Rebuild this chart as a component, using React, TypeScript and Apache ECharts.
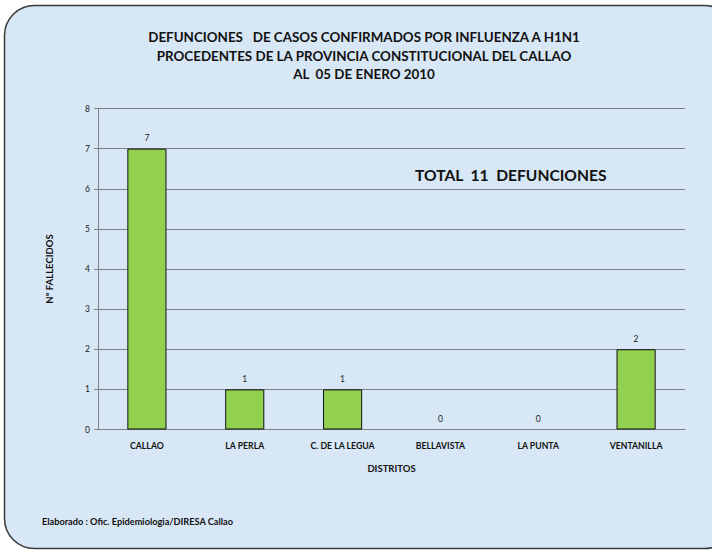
import React, { useEffect, useRef } from "react";
import * as echarts from "echarts";

const categories = ["CALLAO", "LA PERLA", "C. DE LA LEGUA", "BELLAVISTA", "LA PUNTA", "VENTANILLA"];
const deaths = [7, 1, 1, 0, 0, 2];
const titleLines = [
  "DEFUNCIONES   DE CASOS CONFIRMADOS POR INFLUENZA A H1N1",
  "PROCEDENTES DE LA PROVINCIA CONSTITUCIONAL DEL CALLAO",
  "AL  05 DE ENERO 2010",
];
const totalText = "TOTAL  11  DEFUNCIONES";
const sourceText = "Elaborado : Ofic. Epidemiologia/DIRESA Callao";
const yAxisName = "Nº FALLECIDOS";
const xAxisName = "DISTRITOS";

const FONT = "Lato, 'Open Sans', sans-serif";

export default function App() {
  const ref = useRef<HTMLDivElement>(null);
  useEffect(() => {
    if (!ref.current) return;
    const chart = echarts.init(ref.current, null, { renderer: "svg" });
    const titleEls = titleLines.map((t, i) => ({
      type: "text",
      x: 364,
      y: 37 + i * 18.5,
      style: {
        text: t,
        font: `bold 13.4px ${FONT}`,
        fill: "#111",
        align: "center",
        textAlign: "center",
        verticalAlign: "middle",
        textVerticalAlign: "middle",
      },
    }));
    chart.setOption({
      animation: false,
      backgroundColor: "#ffffff",
      textStyle: { fontFamily: FONT },
      graphic: [
        {
          type: "rect",
          z: -10,
          silent: true,
          shape: { x: 4.5, y: 5.5, width: 730, height: 543, r: 30 },
          style: { fill: "#d7e7f6", stroke: "#3a3a3a", lineWidth: 1.5 },
        },
        ...titleEls,
        {
          type: "text",
          x: 415,
          y: 167,
          style: { text: totalText, font: `bold 15.6px ${FONT}`, fill: "#111" },
        },
        {
          type: "text",
          x: 42,
          y: 517,
          style: { text: sourceText, font: `bold 9.2px ${FONT}`, fill: "#111" },
        },
      ],
      grid: { left: 98, top: 108.5, width: 587, height: 321, containLabel: false },
      xAxis: {
        type: "category",
        data: categories,
        name: xAxisName,
        nameLocation: "middle",
        nameGap: 34,
        nameTextStyle: { fontFamily: FONT, fontWeight: "bold", fontSize: 9.5, color: "#111" },
        axisLine: { lineStyle: { color: "#808080", width: 1 } },
        axisTick: { show: false },
        axisLabel: { fontFamily: FONT, fontWeight: "bold", fontSize: 8.7, color: "#111", margin: 11, interval: 0 },
      },
      yAxis: {
        type: "value",
        min: 0,
        max: 8,
        interval: 1,
        name: yAxisName,
        nameLocation: "middle",
        nameGap: 44,
        nameRotate: 90,
        nameTextStyle: { fontFamily: FONT, fontWeight: "bold", fontSize: 9.5, color: "#111" },
        axisLine: { show: true, lineStyle: { color: "#808080", width: 1 } },
        axisTick: { show: true, inside: false, length: 4, lineStyle: { color: "#808080" } },
        axisLabel: { fontFamily: FONT, fontSize: 8.5, color: "#222", margin: 8 },
        splitLine: { show: true, lineStyle: { color: "#808080", width: 1 } },
      },
      series: [
        {
          type: "bar",
          data: deaths.map((v) => (v === 0 ? { value: v, itemStyle: { borderWidth: 0 } } : v)),
          barWidth: "40%",
          itemStyle: { color: "#92d050", borderColor: "#111", borderWidth: 1 },
          label: { show: true, position: "top", distance: 6, fontFamily: FONT, fontSize: 8.5, color: "#222" },
        },
      ],
    });
    return () => chart.dispose();
  }, []);
  return (
    <div
      ref={ref}
      style={{ position: "fixed", left: 0, top: 0, width: 712, height: 551 }}
    />
  );
}
